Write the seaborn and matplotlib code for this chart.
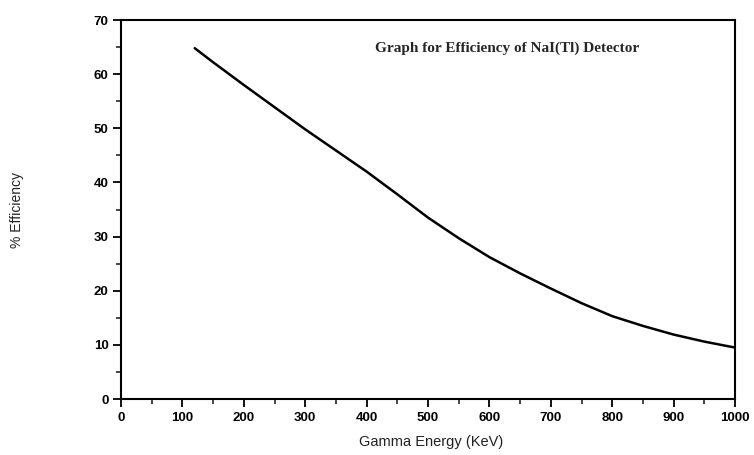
import matplotlib
matplotlib.use("Agg")
import matplotlib.pyplot as plt
from matplotlib.ticker import MultipleLocator
import seaborn as sns
import pandas as pd

energy_kev = [120, 150, 200, 250, 300, 350, 400, 450, 500, 550, 600, 650, 700, 750, 800, 850, 900, 950, 1000]
efficiency_pct = [64.8, 62.2, 58.0, 53.9, 49.8, 45.9, 42.0, 37.8, 33.5, 29.7, 26.2, 23.2, 20.4, 17.7, 15.3, 13.5, 11.9, 10.6, 9.5]
title_text = "Graph for Efficiency of NaI(Tl) Detector"
x_label = "Gamma Energy (KeV)"
y_label = "% Efficiency"

sns.set_style("ticks")
plt.rcParams['font.family'] = ['Liberation Sans', 'DejaVu Sans']

df = pd.DataFrame({"energy": energy_kev, "eff": efficiency_pct})

fig = plt.figure(figsize=(7.54, 4.55), dpi=100)
ax = fig.add_axes([0.1605, 0.123, 0.8145, 0.833])
sns.lineplot(data=df, x="energy", y="eff", ax=ax, color="black", linewidth=1.8)

ax.set_xlim(0, 1000)
ax.set_ylim(0, 70)
ax.xaxis.set_major_locator(MultipleLocator(100))
ax.xaxis.set_minor_locator(MultipleLocator(50))
ax.yaxis.set_major_locator(MultipleLocator(10))
ax.yaxis.set_minor_locator(MultipleLocator(5))
ax.tick_params(which="major", direction="out", length=6, width=1.3, colors="black",
               labelsize=9.5, pad=3, top=False, right=False)
ax.tick_params(which="minor", direction="out", length=3.5, width=1.2, top=False, right=False)
for lab in ax.get_xticklabels() + ax.get_yticklabels():
    lab.set_fontweight("bold")
for s in ax.spines.values():
    s.set_visible(True)
    s.set_linewidth(1.5)
    s.set_color("black")

ax.set_xlabel(x_label, fontsize=10.5, color="#222222")
ax.xaxis.set_label_coords(0.505, -0.095)
ax.set_ylabel(y_label, fontsize=10, color="#222222")
ax.yaxis.set_label_coords(-0.158, 0.5)

ax.text(0.628, 0.925, title_text, transform=ax.transAxes, ha="center", va="center",
        fontsize=11, fontweight="bold", family=["Liberation Serif", "DejaVu Serif"])

fig.savefig("out.png", dpi=100)
